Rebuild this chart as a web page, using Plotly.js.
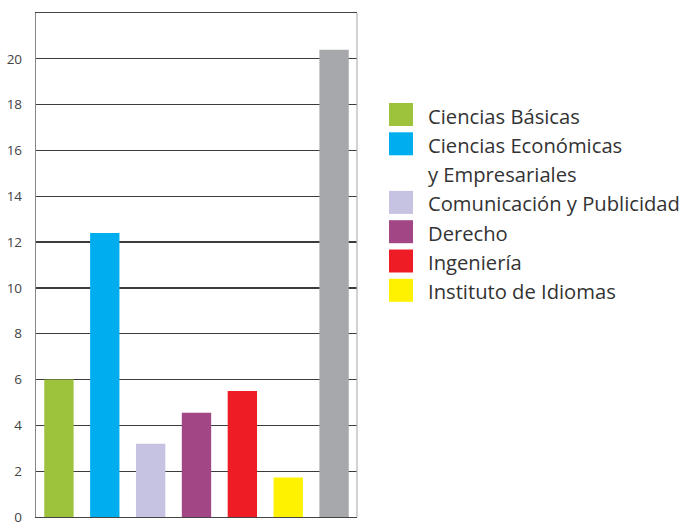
<!DOCTYPE html>
<html>
<head>
<meta charset="utf-8">
<script src="https://cdn.plot.ly/plotly-3.0.1.min.js"></script>
<style>body{margin:0;padding:0;background:#fff}#chart{width:686px;height:522px}</style>
</head>
<body>
<div id="chart"></div>
<script>
var categories = ["Ciencias Básicas", "Ciencias Económicas<br>y Empresariales", "Comunicación y Publicidad", "Derecho", "Ingeniería", "Instituto de Idiomas", "Total"];
var values = [6.0, 12.4, 3.2, 4.55, 5.5, 1.72, 20.4];
var colors = ["#9DC23C", "#00AEEF", "#C6C3E2", "#A24686", "#EE1D25", "#FFF200", "#A7A8AB"];
var inLegend = [true, true, true, true, true, true, false];
var yTicks = [0, 2, 4, 6, 8, 10, 12, 14, 16, 18, 20];

var traces = [{
  type: "bar",
  x: categories,
  y: values,
  marker: {color: colors, line: {width: 0}},
  hoverinfo: "x+y",
  showlegend: false
}];

var shapes = [
  {type: "line", xref: "paper", yref: "paper", x0: 1, x1: 1, y0: 0, y1: 1, line: {color: "#b5b5b5", width: 1.2}}
];
var annotations = [];
var legX0 = 389, legX1 = 413, legTextX = 426, rowY = 114.5, rowStep = 29.3;
var row = 0;
function py(v) { return (517 - v) / 504; }
function px(v) { return (v - 36) / 321; }
for (var i = 0; i < categories.length; i++) {
  if (!inLegend[i]) continue;
  var lines = categories[i].split("<br>");
  var cy = rowY + row * rowStep;
  shapes.push({type: "rect", xref: "paper", yref: "paper",
    x0: px(legX0), x1: px(legX1), y0: py(cy + 11.5), y1: py(cy - 11.5),
    fillcolor: colors[i], line: {width: 0}});
  for (var k = 0; k < lines.length; k++) {
    annotations.push({xref: "paper", yref: "paper",
      x: px(legTextX), y: py(cy + k * rowStep + 1),
      xanchor: "left", yanchor: "middle", align: "left", showarrow: false,
      text: lines[k], font: {family: "Open Sans, Noto Sans, sans-serif", size: 20.2, color: "#333"}});
  }
  row += lines.length;
}

var layout = {
  width: 686, height: 522,
  margin: {l: 36, r: 329, t: 13, b: 5},
  paper_bgcolor: "#fff", plot_bgcolor: "#fff",
  showlegend: false,
  bargap: 0.36,
  xaxis: {showticklabels: false, showgrid: false, zeroline: false,
    showline: true, mirror: true, linecolor: "#444", linewidth: 1.2, ticks: "", fixedrange: true},
  yaxis: {range: [0, 22], tickvals: yTicks, ticktext: yTicks.map(String),
    showgrid: true, gridcolor: "#3c3c3c", gridwidth: 1.2, zeroline: false,
    showline: true, linecolor: "#8a8a8a", linewidth: 1.2, ticks: "", ticklabelstandoff: 10,
    ticklabeloverflow: "allow",
    tickfont: {family: "Open Sans, Noto Sans, sans-serif", size: 13.5, color: "#444"}},
  shapes: shapes,
  annotations: annotations
};
Plotly.newPlot("chart", traces, layout, {displayModeBar: false, staticPlot: true});
</script>
</body>
</html>
